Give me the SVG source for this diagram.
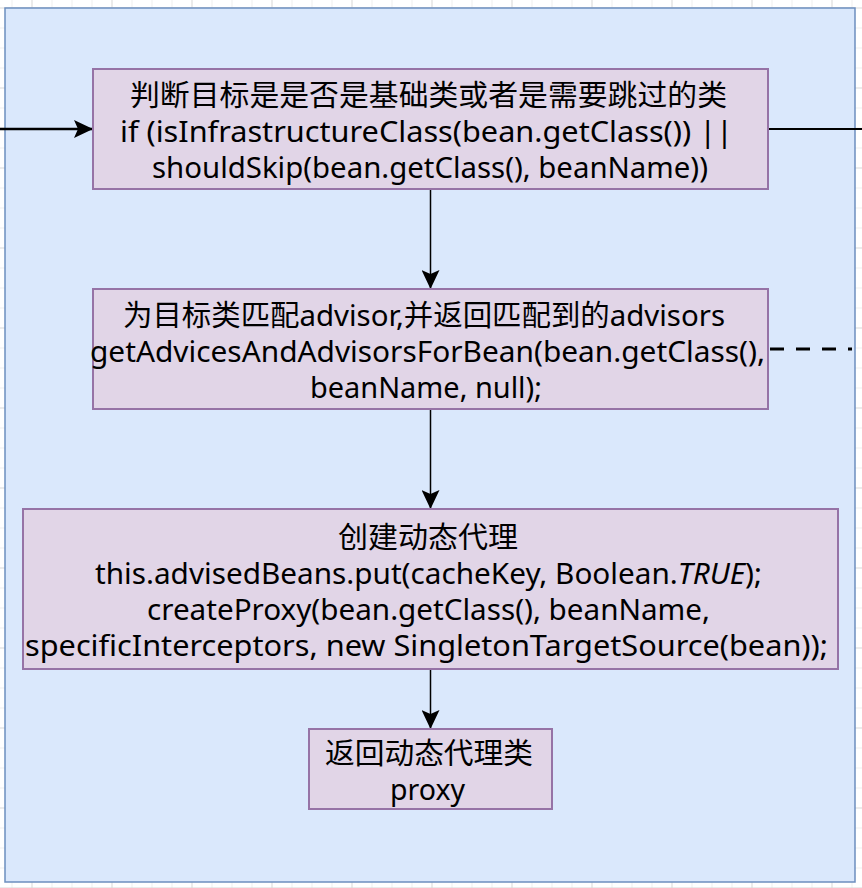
<svg xmlns="http://www.w3.org/2000/svg" width="862" height="888" viewBox="0 0 862 888">
  <style>
    .node rect { fill: #e1d5e7; stroke: #9673a6; stroke-width: 2; }
    .node text { font-family: "Noto Sans", "Noto Sans CJK SC", sans-serif; font-size: 29px; fill: #000; text-anchor: middle; }
    .conn { stroke: #000; fill: none; }
  </style>
  <defs>
    <pattern id="grid" x="0" y="0" width="80" height="80" patternUnits="userSpaceOnUse">
      <rect width="80" height="80" fill="#ffffff"/>
      <path d="M12 0V80M52 0V80M72 0V80M0 28H80M0 48H80M0 68H80" stroke="#efefef" stroke-width="1"/>
      <path d="M32 0V80M0 8H80" stroke="#d8d8d8" stroke-width="1"/>
    </pattern>
    <marker id="arr" viewBox="0 0 19 18" refX="19" refY="9" markerWidth="19" markerHeight="18" markerUnits="userSpaceOnUse" orient="auto">
      <path d="M0 0L19 9L0 18L4 9Z" fill="#000"/>
    </marker>
  </defs>
  <rect x="0" y="0" width="862" height="888" fill="url(#grid)"/>
  <g id="container">
    <rect x="5" y="8" width="850" height="874" fill="#dae8fc" stroke="#6c8ebf" stroke-width="1.5"/>
  </g>
  <g id="connectors">
    <line class="conn" x1="0" y1="129" x2="93" y2="129" stroke-width="2.5" marker-end="url(#arr)"/>
    <line class="conn" x1="768" y1="129" x2="862" y2="129" stroke-width="2"/>
    <line class="conn" x1="430.5" y1="189" x2="430.5" y2="289" stroke-width="1.5" marker-end="url(#arr)"/>
    <line class="conn" x1="430.5" y1="409" x2="430.5" y2="509" stroke-width="1.5" marker-end="url(#arr)"/>
    <line class="conn" x1="430.5" y1="669" x2="430.5" y2="729" stroke-width="1.5" marker-end="url(#arr)"/>
    <line class="conn" x1="770" y1="349" x2="852" y2="349" stroke-width="3" stroke-dasharray="14 12"/>
  </g>
  <g id="node-check" class="node">
    <rect x="93" y="69" width="675" height="120"/>
    <text x="428.5" y="106" textLength="597" lengthAdjust="spacingAndGlyphs">判断目标是是否是基础类或者是需要跳过的类</text>
    <text x="426.5" y="142" textLength="613" lengthAdjust="spacingAndGlyphs">if (isInfrastructureClass(bean.getClass()) ||</text>
    <text x="430" y="178" textLength="556" lengthAdjust="spacingAndGlyphs">shouldSkip(bean.getClass(), beanName))</text>
  </g>
  <g id="node-advisors" class="node">
    <rect x="93" y="289" width="675" height="120"/>
    <text x="424" y="326" textLength="602" lengthAdjust="spacingAndGlyphs">为目标类匹配advisor,并返回匹配到的advisors</text>
    <text x="427.5" y="362" textLength="675" lengthAdjust="spacingAndGlyphs">getAdvicesAndAdvisorsForBean(bean.getClass(),</text>
    <text x="426" y="398" textLength="232" lengthAdjust="spacingAndGlyphs">beanName, null);</text>
  </g>
  <g id="node-proxy-create" class="node">
    <rect x="23" y="509" width="815" height="160"/>
    <text x="428" y="548" textLength="180" lengthAdjust="spacingAndGlyphs">创建动态代理</text>
    <text x="428.5" y="584" textLength="667" lengthAdjust="spacingAndGlyphs">this.advisedBeans.put(cacheKey, Boolean.<tspan font-style="italic">TRUE</tspan>);</text>
    <text x="428.5" y="620" textLength="563" lengthAdjust="spacingAndGlyphs">createProxy(bean.getClass(), beanName,</text>
    <text x="426.5" y="656" textLength="803" lengthAdjust="spacingAndGlyphs">specificInterceptors, new SingletonTargetSource(bean));</text>
  </g>
  <g id="node-return" class="node">
    <rect x="309" y="729" width="243" height="80"/>
    <text x="429" y="764" textLength="208" lengthAdjust="spacingAndGlyphs">返回动态代理类</text>
    <text x="427.5" y="800" textLength="75" lengthAdjust="spacingAndGlyphs">proxy</text>
  </g>
</svg>
